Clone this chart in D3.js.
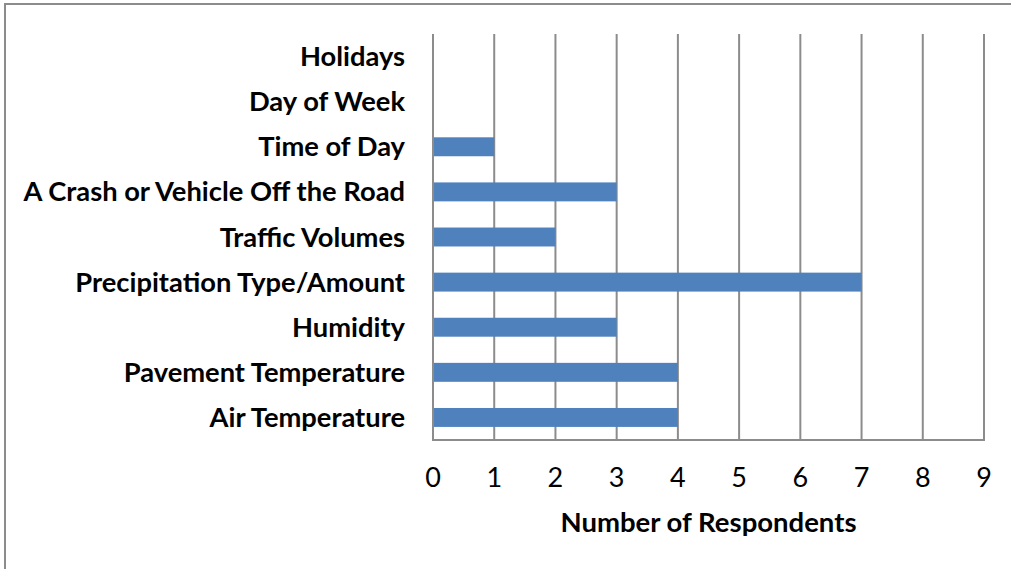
<!DOCTYPE html>
<head>
  <meta charset="utf-8">
  <title>Respondents</title>
  <style>
    body { margin: 0; background: #fff; }
    .cat text { font: bold 27.3px Lato, sans-serif; fill: #000; }
    .tick-label { font: 27px Lato, sans-serif; fill: #000; }
    .title { font: bold 27.5px Lato, sans-serif; fill: #000; }
    .grid line { stroke: #8c8c8c; stroke-width: 2px; }
  </style>
</head>
<body>
  <div id="chart"></div>
  <script src="https://cdn.jsdelivr.net/npm/d3@7"></script>
  <script>
    var categories = ["Holidays", "Day of Week", "Time of Day", "A Crash or Vehicle Off the Road",
                      "Traffic Volumes", "Precipitation Type/Amount", "Humidity",
                      "Pavement Temperature", "Air Temperature"];
    var respondents = [0, 0, 1, 3, 2, 7, 3, 4, 4];
    var xTicks = [0, 1, 2, 3, 4, 5, 6, 7, 8, 9];

    var width = 1011, height = 569;
    var plotLeft = 433, plotRight = 984, plotTop = 34, plotBottom = 440;

    var svg = d3.select("#chart").append("svg")
        .attr("width", width)
        .attr("height", height);

    // outer frame (only top and left edges fall inside the picture)
    svg.append("rect")
        .attr("x", 5).attr("y", 4)
        .attr("width", 1020).attr("height", 580)
        .attr("fill", "none")
        .attr("stroke", "#8c8c8c")
        .attr("stroke-width", 2);

    var x = d3.scaleLinear().domain([0, 9]).range([plotLeft, plotRight]);
    var y = d3.scaleBand().domain(categories).range([plotTop, plotBottom]).paddingInner(0.58).paddingOuter(0.29);

    var grid = svg.append("g").attr("class", "grid");
    grid.selectAll("line.v")
      .data(xTicks)
      .enter().append("line")
        .attr("x1", function(d) { return x(d); })
        .attr("x2", function(d) { return x(d); })
        .attr("y1", plotTop)
        .attr("y2", plotBottom);
    grid.append("line")
        .attr("x1", plotLeft - 1).attr("x2", plotRight + 1)
        .attr("y1", plotBottom).attr("y2", plotBottom);

    svg.selectAll(".bar")
      .data(categories)
      .enter().append("rect")
        .attr("class", "bar")
        .attr("x", x(0) + 1)
        .attr("y", function(d) { return y(d); })
        .attr("width", function(d, i) { return Math.max(0, x(respondents[i]) - x(0) - 1); })
        .attr("height", y.bandwidth())
        .attr("fill", "#4f81bd");

    var cat = svg.append("g").attr("class", "cat");
    cat.selectAll("text")
      .data(categories)
      .enter().append("text")
        .attr("x", 405)
        .attr("y", function(d) { return y(d) + y.bandwidth() / 2; })
        .attr("dy", "0.35em")
        .attr("text-anchor", "end")
        .text(function(d) { return d; });

    svg.selectAll(".tick-label")
      .data(xTicks)
      .enter().append("text")
        .attr("class", "tick-label")
        .attr("x", function(d) { return x(d); })
        .attr("y", 478)
        .attr("dy", "0.35em")
        .attr("text-anchor", "middle")
        .text(function(d) { return d; });

    svg.append("text")
        .attr("class", "title")
        .attr("x", (plotLeft + plotRight) / 2)
        .attr("y", 522)
        .attr("dy", "0.35em")
        .attr("text-anchor", "middle")
        .text("Number of Respondents");
  </script>
</body>
